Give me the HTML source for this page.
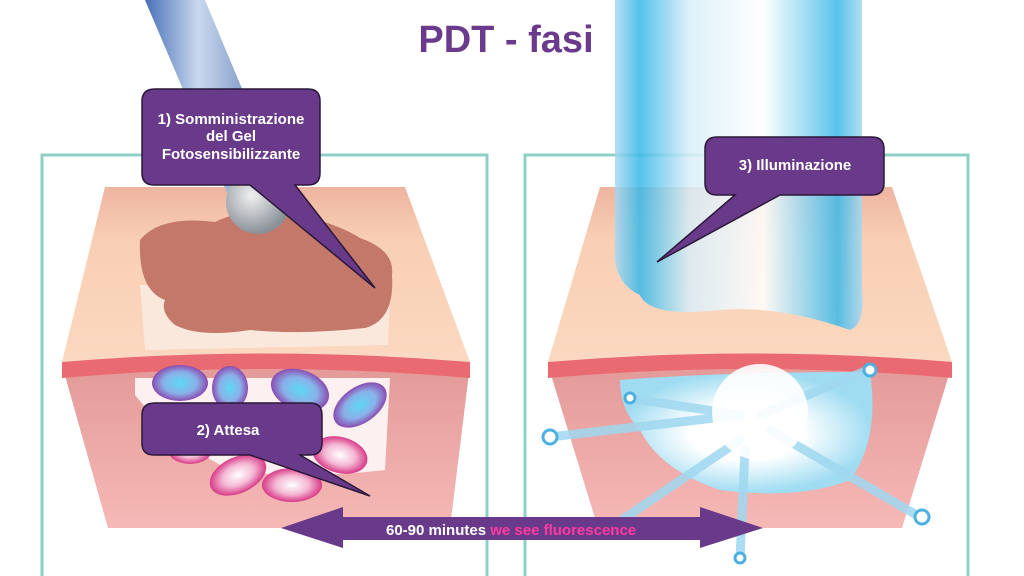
<!DOCTYPE html>
<html><head><meta charset="utf-8"><style>
html,body{margin:0;padding:0;background:#fff}
svg{display:block}
text{font-family:"Liberation Sans",Arial,sans-serif;font-weight:bold}
</style></head><body>
<svg width="1024" height="576" viewBox="0 0 1024 576" xmlns="http://www.w3.org/2000/svg">
<defs>
<linearGradient id="peach" x1="0" y1="0" x2="0" y2="1"><stop offset="0" stop-color="#eeb4a0"/><stop offset="0.3" stop-color="#f8cfb4"/><stop offset="1" stop-color="#fbd8c0"/></linearGradient>
<linearGradient id="lower" x1="0" y1="0" x2="0" y2="1"><stop offset="0" stop-color="#e39a98"/><stop offset="1" stop-color="#f6b9b6"/></linearGradient>
<linearGradient id="beam" x1="0" y1="0" x2="1" y2="0"><stop offset="0" stop-color="#a8d8f0"/><stop offset="0.1" stop-color="#38b8e8"/><stop offset="0.3" stop-color="#d8eef8"/><stop offset="0.6" stop-color="#ffffff"/><stop offset="0.9" stop-color="#3cb8e8"/><stop offset="1" stop-color="#a8d8f0"/></linearGradient>
<linearGradient id="tube" x1="0" y1="0" x2="1" y2="0"><stop offset="0" stop-color="#4870b8"/><stop offset="0.4" stop-color="#c8d8ee"/><stop offset="1" stop-color="#5878b0"/></linearGradient>
<radialGradient id="ball" cx="0.4" cy="0.4" r="0.6"><stop offset="0" stop-color="#f0f0f0"/><stop offset="1" stop-color="#8a9098"/></radialGradient>
<radialGradient id="glow" cx="0.5" cy="0.5" r="0.5"><stop offset="0" stop-color="#fff"/><stop offset="0.45" stop-color="#fff"/><stop offset="1" stop-color="#9fdcf2"/></radialGradient>
<radialGradient id="cellB" cx="0.5" cy="0.5" r="0.5"><stop offset="0" stop-color="#5ed8f4"/><stop offset="0.6" stop-color="#8ab0e8"/><stop offset="1" stop-color="#8a4cb0"/></radialGradient>
<radialGradient id="cellP" cx="0.5" cy="0.5" r="0.5"><stop offset="0" stop-color="#fff"/><stop offset="0.55" stop-color="#f4b8d4"/><stop offset="1" stop-color="#d83a88"/></radialGradient>
</defs>

<!-- frames -->
<polyline points="42,576 42,155 487,155 487,576" fill="none" stroke="#8fd0c4" stroke-width="3"/>
<polyline points="525,576 525,155 968,155 968,576" fill="none" stroke="#8fd0c4" stroke-width="3"/>

<!-- LEFT block -->
<polygon points="62,365 470,365 450,528 108,528" fill="url(#lower)"/>
<polygon points="105,187 405,187 470,362 62,362" fill="url(#peach)"/>
<path d="M62,362 Q265,345 470,362 L470,378 Q265,360 62,378 Z" fill="#ea6a72"/>
<path d="M140,285 L390,285 L388,345 L145,350 Z" fill="#fbe8dc"/>
<path d="M140,240 Q160,215 215,222 Q250,205 300,215 Q340,225 360,238 Q395,250 392,275 Q395,320 365,328 Q300,335 250,330 Q200,338 175,325 Q160,312 165,300 Q138,290 140,240 Z" fill="#c4786a"/>
<path d="M135,378 L390,378 L385,470 Q300,480 230,470 Q170,440 135,395 Z" fill="#fdf0f0"/>
<ellipse cx="180" cy="383" rx="28" ry="18" fill="url(#cellB)"/>
<ellipse cx="230" cy="388" rx="18" ry="22" fill="url(#cellB)"/>
<ellipse cx="300" cy="390" rx="30" ry="20" fill="url(#cellB)" transform="rotate(20 300 390)"/>
<ellipse cx="360" cy="405" rx="30" ry="18" fill="url(#cellB)" transform="rotate(-35 360 405)"/>
<ellipse cx="340" cy="455" rx="28" ry="18" fill="url(#cellP)" transform="rotate(15 340 455)"/>
<ellipse cx="238" cy="475" rx="30" ry="18" fill="url(#cellP)" transform="rotate(-25 238 475)"/>
<ellipse cx="292" cy="485" rx="30" ry="17" fill="url(#cellP)"/>
<ellipse cx="190" cy="450" rx="22" ry="14" fill="url(#cellP)"/>

<!-- applicator -->
<polygon points="145,0 205,0 278,175 230,200" fill="url(#tube)"/>
<circle cx="258" cy="202" r="32" fill="url(#ball)"/>

<!-- RIGHT block -->
<polygon points="548,365 952,365 902,528 598,528" fill="url(#lower)"/>
<polygon points="600,187 892,187 952,362 548,362" fill="url(#peach)"/>
<path d="M548,362 Q750,345 952,362 L952,378 Q750,360 548,378 Z" fill="#ea6a72"/>
<path d="M620,380 Q720,372 870,372 Q880,440 850,480 Q800,500 720,490 Q660,470 640,430 Q620,410 620,380 Z" fill="url(#glow)"/>
<g stroke="#9fd8f0" stroke-width="9" stroke-linecap="round" opacity="0.85">
<line x1="550" y1="437" x2="740" y2="415"/>
<line x1="628" y1="398" x2="740" y2="415"/>
<line x1="868" y1="370" x2="760" y2="415"/>
<line x1="920" y1="517" x2="770" y2="430"/>
<line x1="610" y1="528" x2="740" y2="440"/>
<line x1="740" y1="558" x2="745" y2="450"/>
</g>
<g fill="#fff" stroke="#4cb0e0" stroke-width="3">
<circle cx="550" cy="437" r="7"/><circle cx="630" cy="398" r="5"/><circle cx="870" cy="370" r="6"/>
<circle cx="922" cy="517" r="7"/><circle cx="610" cy="528" r="6"/><circle cx="740" cy="558" r="5"/>
</g>
<circle cx="760" cy="412" r="48" fill="#fff" opacity="0.9"/>
<!-- beam -->
<path d="M615,0 L862,0 L862,290 Q865,325 850,330 Q780,305 720,310 Q650,318 640,295 Q618,285 615,260 Z" fill="url(#beam)" opacity="0.85"/>

<!-- title -->
<text x="506" y="52" font-size="38" fill="#6b3a8c" text-anchor="middle">PDT - fasi</text>

<!-- callouts -->
<g fill="#6a3a8a" stroke="#2a1838" stroke-width="1.5">
<path d="M155,89 L308,89 Q320,89 320,101 L320,173 Q320,185 308,185 L295,185 L375,288 L250,185 L154,185 Q142,185 142,173 L142,101 Q142,89 155,89 Z"/>
<path d="M155,403 L310,403 Q322,403 322,415 L322,443 Q322,455 310,455 L300,455 L370,496 L250,455 L154,455 Q142,455 142,443 L142,415 Q142,403 155,403 Z"/>
<path d="M717,137 L872,137 Q884,137 884,149 L884,183 Q884,195 872,195 L780,195 L657,262 L735,195 L717,195 Q705,195 705,183 L705,149 Q705,137 717,137 Z"/>
</g>
<g fill="#fff" font-size="15" text-anchor="middle">
<text x="231" y="124">1) Somministrazione</text>
<text x="231" y="141">del Gel</text>
<text x="231" y="159">Fotosensibilizzante</text>
<text x="228" y="435">2) Attesa</text>
<text x="795" y="170">3) Illuminazione</text>
</g>

<!-- arrow -->
<polygon points="281,528 343,507 343,517 700,517 700,507 763,528 700,548 700,540 343,540 343,548" fill="#6a3a8a"/>
<text x="386" y="535" font-size="15" fill="#fff">60-90 minutes <tspan fill="#ff3aa0">we see fluorescence</tspan></text>
</svg>
</body></html>
